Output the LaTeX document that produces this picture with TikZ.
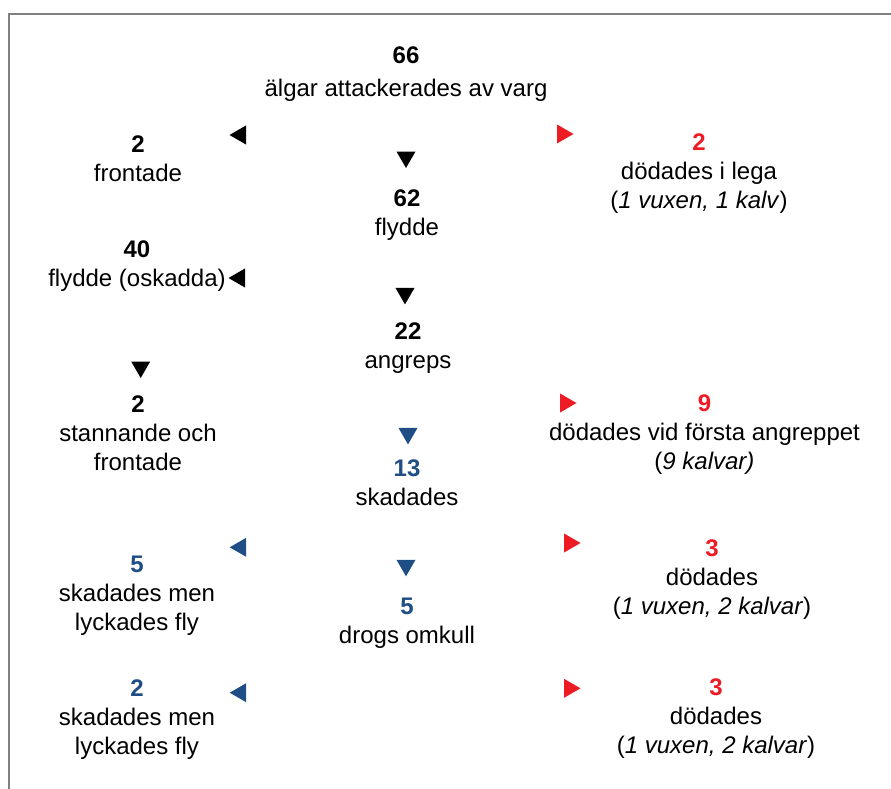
\documentclass[tikz,border=0pt]{standalone}
\usepackage{fontspec}
\setmainfont{Liberation Sans}
\usetikzlibrary{shapes.geometric}
\definecolor{killred}{RGB}{237,28,36}
\definecolor{hurtblue}{RGB}{31,78,134}
\definecolor{framegray}{RGB}{128,128,128}

\begin{document}
\begin{tikzpicture}[x=1pt, y=-1pt,
  lbl/.style = {align=center, inner sep=0pt, font=\fontsize{24}{29}\selectfont},
  tri/.style = {regular polygon, regular polygon sides=3, fill, inner sep=0pt, minimum size=22pt},
  tridown/.style = {tri, regular polygon rotate=180},
  trileft/.style = {tri, regular polygon rotate=90},
  triright/.style = {tri, regular polygon rotate=-90}]
  \useasboundingbox (0,0) rectangle (891,789);
  \draw[framegray, line width=1.2pt] (891,14) -- (9,14) -- (9,789);

  \node[lbl] (attacked) at (406,74.4) {\textbf{66}\\[4pt]älgar attackerades av varg};

  \node[lbl] (faced1) at (138,159.2) {\textbf{2}\\frontade};
  \node[lbl] (fled) at (407,215.1) {\textbf{62}\\flydde};
  \node[lbl] (lair) at (699,173.6) {\textcolor{killred}{\textbf{2}}\\dödades i lega\\(\textit{1 vuxen, 1 kalv})};

  \node[lbl] (unhurt) at (137,265.7) {\textbf{40}\\flydde (oskadda)};
  \node[lbl] (chased) at (408,348.4) {\textbf{22}\\angreps};

  \node[lbl] (faced2) at (138,433.1) {\textbf{2}\\stannande och\\frontade};
  \node[lbl] (first) at (704.5,435.1) {\textcolor{killred}{\textbf{9}}\\dödades vid första angreppet\\(\textit{9 kalvar)}};
  \node[lbl] (hurt) at (407,482.6) {\textcolor{hurtblue}{\textbf{13}}\\skadades};

  \node[lbl] (escaped1) at (137,595.6) {\textcolor{hurtblue}{\textbf{5}}\\skadades men\\lyckades fly};
  \node[lbl] (killed1) at (712,579.6) {\textcolor{killred}{\textbf{3}}\\dödades\\(\textit{1 vuxen, 2 kalvar})};
  \node[lbl] (downed) at (407,623.4) {\textcolor{hurtblue}{\textbf{5}}\\drogs omkull};

  \node[lbl] (escaped2) at (137,719.6) {\textcolor{hurtblue}{\textbf{2}}\\skadades men\\lyckades fly};
  \node[lbl] (killed2) at (716,718.9) {\textcolor{killred}{\textbf{3}}\\dödades\\(\textit{1 vuxen, 2 kalvar})};

  \node[trileft] (tfaced1) at (240.5,135) {};
  \node[tridown] (tfled) at (406,157) {};
  \node[triright, killred] (tlair) at (562.5,134) {};
  \node[trileft] (tunhurt) at (239.5,278) {};
  \node[tridown] (tchased) at (405,293.4) {};
  \node[tridown] (tfaced2) at (140.7,367) {};
  \node[triright, killred] (tfirst) at (565.5,403) {};
  \node[tridown, hurtblue] (thurt) at (408,433.4) {};
  \node[trileft, hurtblue] (tescaped1) at (240.7,547.3) {};
  \node[tridown, hurtblue] (tdowned) at (406,565.3) {};
  \node[triright, killred] (tkilled1) at (569.5,543) {};
  \node[trileft, hurtblue] (tescaped2) at (240.7,692.7) {};
  \node[triright, killred] (tkilled2) at (569.5,688.3) {};

\end{tikzpicture}
\end{document}
